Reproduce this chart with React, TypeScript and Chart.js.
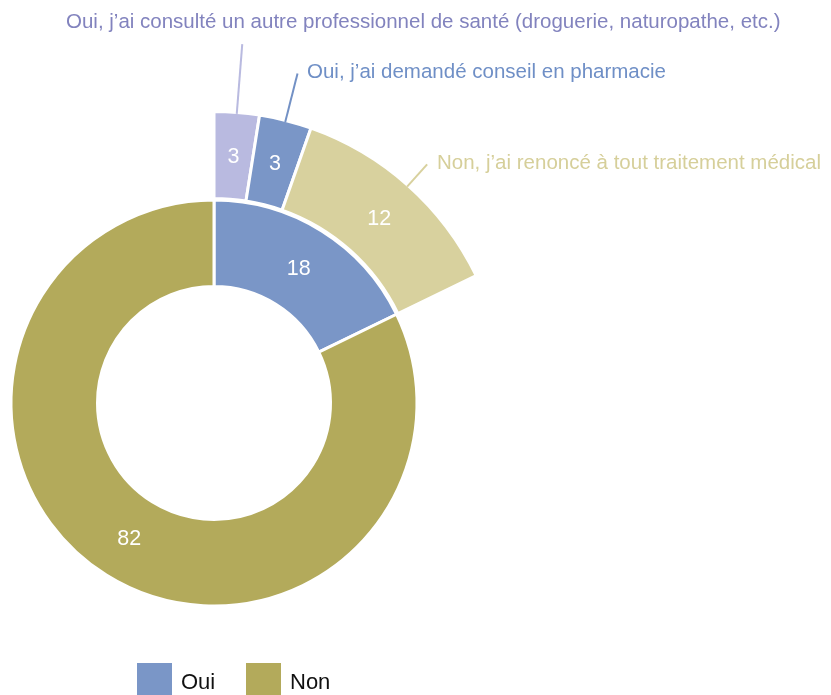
import React, { useEffect, useRef } from "react";
import { Chart, registerables } from "chart.js";

Chart.register(...registerables);

// ---- data ----
const innerLabels = ["Oui", "Non"];
const innerValues = [17.8, 82.2];
const outerLabels = [
  "Oui, j’ai consulté un autre professionnel de santé (droguerie, naturopathe, etc.)",
  "Oui, j’ai demandé conseil en pharmacie",
  "Non, j’ai renoncé à tout traitement médical",
];
const outerValues = [2.5, 2.9, 12.4];

// ---- styles ----
const innerColors = ["#7a96c7", "#b3aa5b"];
const outerColors = ["#b9bae0", "#7a96c7", "#d8d19e"];
const outerLineColors = ["#b9bae0", "#7391c5", "#d8d19e"];
const outerTextColors = ["#8283be", "#6f8fc6", "#d6cf9a"];
const FONT = '"Liberation Sans", Arial, Helvetica, sans-serif';

const overlayPlugin = {
  id: "overlay",
  afterDatasetsDraw(chart: any) {
    const ctx = chart.ctx as CanvasRenderingContext2D;
    ctx.save();

    const outerMeta = chart.getDatasetMeta(0);
    const innerMeta = chart.getDatasetMeta(2);

    // value labels
    ctx.fillStyle = "#ffffff";
    ctx.font = `21.5px ${FONT}`;
    ctx.textAlign = "center";
    ctx.textBaseline = "middle";
    outerValues.forEach((v, i) => {
      const p = outerMeta.data[i].tooltipPosition(true);
      ctx.fillText(String(Math.round(v)), p.x, p.y + 1);
    });
    innerValues.forEach((v, i) => {
      const p = innerMeta.data[i].tooltipPosition(true);
      ctx.fillText(String(Math.round(v)), p.x, p.y + 1);
    });

    // leader lines + annotation text
    const ext = [70, 50, 30];
    const textPos = [
      [66, 28],
      [307, 78],
      [437, 169],
    ];
    ctx.lineWidth = 2;
    ctx.font = `20.5px ${FONT}`;
    ctx.textAlign = "left";
    ctx.textBaseline = "alphabetic";
    outerValues.forEach((_, i) => {
      const arc = outerMeta.data[i];
      const { x, y, startAngle, endAngle, outerRadius } = arc.getProps(
        ["x", "y", "startAngle", "endAngle", "outerRadius"],
        true
      );
      const a = (startAngle + endAngle) / 2;
      const r0 = outerRadius - 1.5;
      const r1 = r0 + ext[i];
      ctx.strokeStyle = outerLineColors[i];
      ctx.beginPath();
      ctx.moveTo(x + Math.cos(a) * r0, y + Math.sin(a) * r0);
      ctx.lineTo(x + Math.cos(a) * r1, y + Math.sin(a) * r1);
      ctx.stroke();
      ctx.fillStyle = outerTextColors[i];
      ctx.fillText(outerLabels[i], textPos[i][0], textPos[i][1]);
    });

    // legend
    const boxes = [
      [137, 663],
      [246, 663],
    ];
    ctx.font = `22px ${FONT}`;
    innerLabels.forEach((lab, i) => {
      ctx.fillStyle = innerColors[i];
      ctx.fillRect(boxes[i][0], boxes[i][1], 35, 35);
      ctx.fillStyle = "#111111";
      ctx.fillText(lab, boxes[i][0] + 44, 689);
    });

    ctx.restore();
  },
};

export default function App() {
  const ref = useRef<HTMLCanvasElement>(null);
  useEffect(() => {
    document.body.style.margin = "0";
    const canvas = ref.current;
    if (!canvas) return;
    const transparent = "rgba(0,0,0,0)";
    const remainder = innerValues[1];
    const chart = new Chart(canvas, {
      type: "doughnut",
      data: {
        labels: [...outerLabels, ""],
        datasets: [
          {
            data: [...outerValues, remainder],
            backgroundColor: [...outerColors, transparent],
            borderColor: "#ffffff",
            borderWidth: [3, 3, 3, 0],
            weight: 87,
          },
          {
            data: [100],
            backgroundColor: [transparent],
            borderWidth: 0,
            weight: 1.5,
          },
          {
            data: innerValues,
            backgroundColor: innerColors,
            borderColor: "#ffffff",
            borderWidth: 3,
            weight: 86.5,
          },
        ],
      } as any,
      options: {
        responsive: false,
        devicePixelRatio: 1,
        animation: false,
        radius: 291.5,
        cutout: (116.5 / 291.5) * 100 + "%",
        layout: { padding: { left: 0, right: 403, top: 111, bottom: 0 } },
        plugins: {
          legend: { display: false },
          tooltip: { enabled: false },
        },
        events: [],
      } as any,
      plugins: [overlayPlugin],
    });
    return () => chart.destroy();
  }, []);
  return (
    <div style={{ width: 831, height: 695, position: "relative" }}>
      <canvas
        ref={ref}
        width={831}
        height={695}
        style={{ display: "block", width: 831, height: 695 }}
      />
    </div>
  );
}
